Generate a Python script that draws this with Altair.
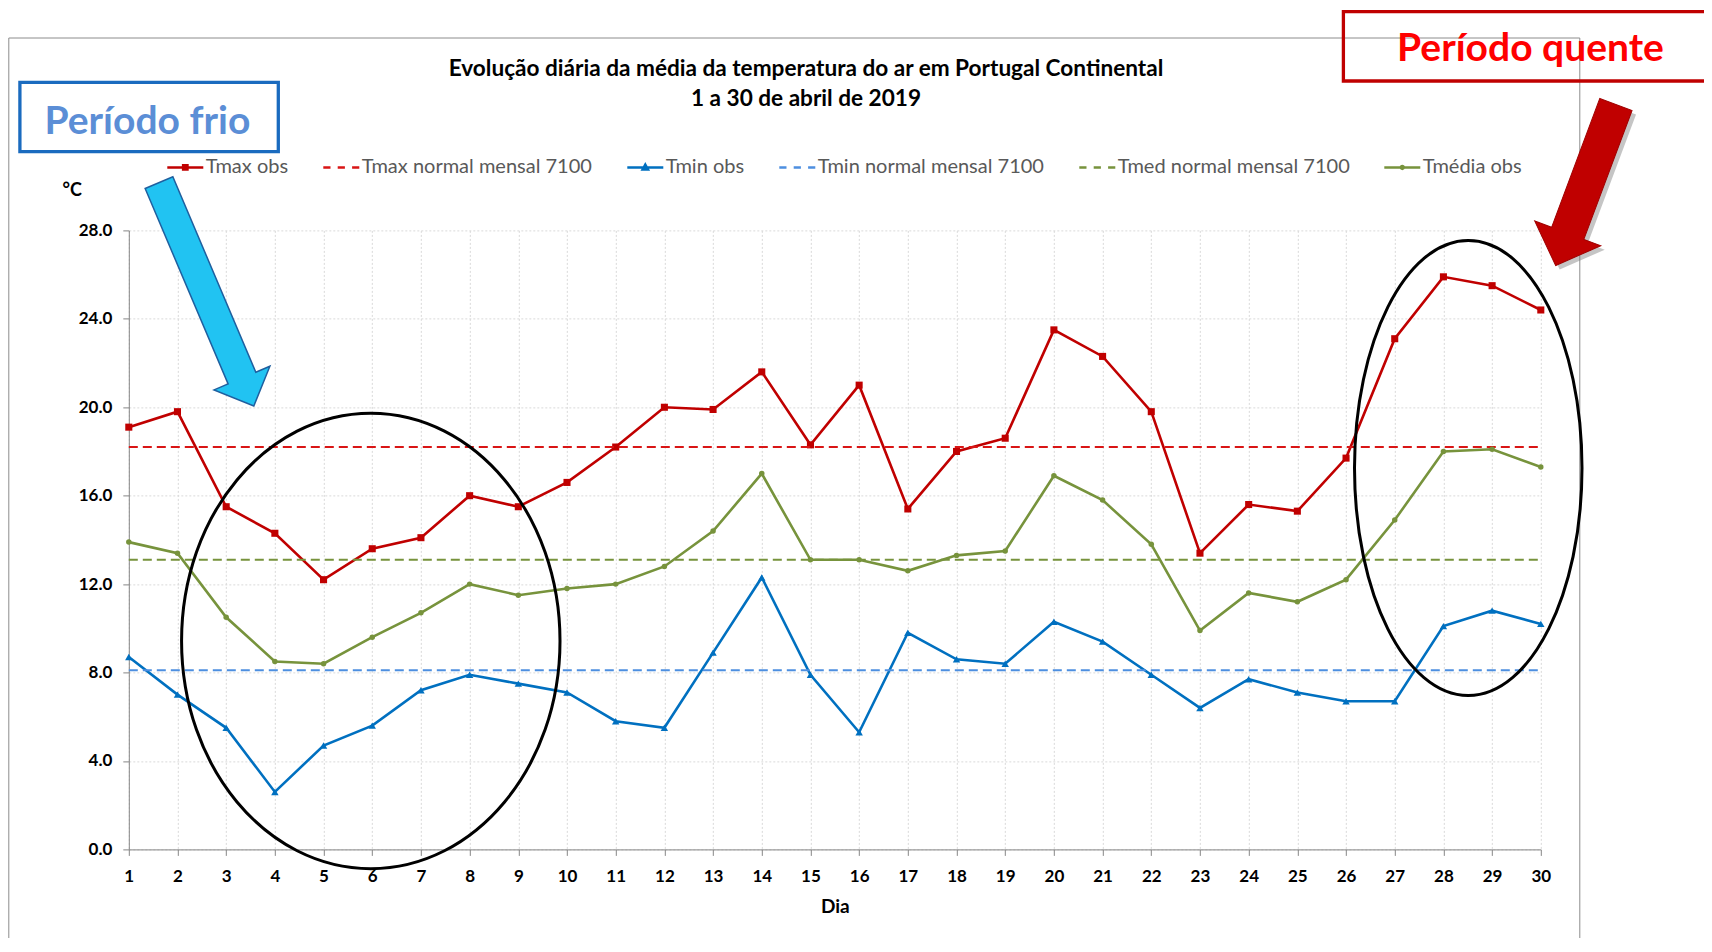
import altair as alt
import pandas as pd

# ---------------- data ----------------
days = list(range(1, 31))
tmax_obs = [19.1, 19.8, 15.5, 14.3, 12.2, 13.6, 14.1, 16.0, 15.5, 16.6,
            18.2, 20.0, 19.9, 21.6, 18.3, 21.0, 15.4, 18.0, 18.6, 23.5,
            22.3, 19.8, 13.4, 15.6, 15.3, 17.7, 23.1, 25.9, 25.5, 24.4]
tmin_obs = [8.7, 7.0, 5.5, 2.6, 4.7, 5.6, 7.2, 7.9, 7.5, 7.1,
            5.8, 5.5, 8.9, 12.3, 7.9, 5.3, 9.8, 8.6, 8.4, 10.3,
            9.4, 7.9, 6.4, 7.7, 7.1, 6.7, 6.7, 10.1, 10.8, 10.2]
tmed_obs = [13.9, 13.4, 10.5, 8.5, 8.4, 9.6, 10.7, 12.0, 11.5, 11.8,
            12.0, 12.8, 14.4, 17.0, 13.1, 13.1, 12.6, 13.3, 13.5, 16.9,
            15.8, 13.8, 9.9, 11.6, 11.2, 12.2, 14.9, 18.0, 18.1, 17.3]
tmax_normal = 18.2
tmin_normal = 8.1
tmed_normal = 13.1

series_names = ["Tmax obs", "Tmax normal mensal 7100", "Tmin obs",
                "Tmin normal mensal 7100", "Tmed normal mensal 7100", "Tmédia obs"]
series_colors = ["#c00000", "#d91515", "#0070c0", "#4d8fe0", "#77933c", "#77933c"]

y_ticks = [0, 4, 8, 12, 16, 20, 24, 28]

title_lines = ["Evolução diária da média da temperatura do ar em Portugal Continental",
               "1 a 30 de abril de 2019"]

# ---------------- helpers for symbol paths ----------------
def ellipse_path(a, b, cx=0.0, cy=0.0):
    k = 0.5523
    f = lambda v: f"{v:.4f}"
    return (f"M{f(cx+a)},{f(cy)} "
            f"C{f(cx+a)},{f(cy+k*b)} {f(cx+k*a)},{f(cy+b)} {f(cx)},{f(cy+b)} "
            f"C{f(cx-k*a)},{f(cy+b)} {f(cx-a)},{f(cy+k*b)} {f(cx-a)},{f(cy)} "
            f"C{f(cx-a)},{f(cy-k*b)} {f(cx-k*a)},{f(cy-b)} {f(cx)},{f(cy-b)} "
            f"C{f(cx+k*a)},{f(cy-b)} {f(cx+a)},{f(cy-k*b)} {f(cx+a)},{f(cy)} Z")

def arrow_path(shaft, head, head_start):
    return (f"M{-shaft},-1L{shaft},-1L{shaft},{head_start}L{head},{head_start}"
            f"L0,1L{-head},{head_start}L{-shaft},{head_start}Z")

leg_line = "M-1,0L1,0"
leg_dash = "M-1,0L-0.6,0M-0.2,0L0.2,0M0.6,0L1,0"
legend_paths = [
    leg_line + "M-0.12,-0.12L0.12,-0.12L0.12,0.12L-0.12,0.12Z",
    leg_dash,
    leg_line + "M-0.15,0.12L0.15,0.12L0,-0.16Z",
    leg_dash,
    leg_dash,
    leg_line + ellipse_path(0.08, 0.08),
]

# ---------------- tables ----------------
obs_df = pd.DataFrame({
    "day": days * 3,
    "temp": tmax_obs + tmin_obs + tmed_obs,
    "series": ["Tmax obs"] * 30 + ["Tmin obs"] * 30 + ["Tmédia obs"] * 30,
})
one = pd.DataFrame({"k": [0]})

LABEL_FONT = "Lato"

x_enc = alt.X("day:Q", scale=alt.Scale(domain=[1, 30], nice=False, zero=False),
              axis=alt.Axis(values=days, format="d", title="Dia",
                            labelFont=LABEL_FONT, labelFontSize=17, labelFontWeight="bold",
                            labelColor="#000000", labelPadding=13, labelFlush=False,
                            labelOverlap=False, tickSize=6, tickColor="#868686",
                            domainColor="#868686", grid=True, gridColor="#d9d9d9",
                            gridDash=[2, 2], titleFont=LABEL_FONT, titleFontSize=19,
                            titleFontWeight="bold", titleColor="#000000",
                            titleY=63, titleBaseline="alphabetic"))
y_enc = alt.Y("temp:Q", scale=alt.Scale(domain=[0, 28], nice=False),
              axis=alt.Axis(values=y_ticks, format=".1f", title="°C",
                            labelFont=LABEL_FONT, labelFontSize=17, labelFontWeight="bold",
                            labelColor="#000000", labelPadding=11, tickSize=6,
                            tickColor="#868686", domainColor="#868686", grid=True,
                            gridColor="#d9d9d9", gridDash=[2, 2],
                            titleAngle=0, titleX=-57, titleY=-40, titleAlign="center",
                            titleBaseline="middle", titleFont=LABEL_FONT, titleFontSize=18,
                            titleFontWeight="bold", titleColor="#000000"))

layers = []

# outer chart frame (Excel chart area border)
layers.append(alt.Chart(one).mark_rect(fill="transparent", stroke="#8c8c8c", strokeWidth=1).encode(
    x=alt.value(-120), x2=alt.value(1451), y=alt.value(-192.4), y2=alt.value(800)))

# axes carrier (invisible) so axes are defined once
layers.append(alt.Chart(obs_df).mark_line(opacity=0).encode(x=x_enc, y=y_enc, detail="series:N"))

def normal_rule(value, color):
    return alt.Chart(pd.DataFrame({"v": [value]})).mark_rule(
        color=color, strokeWidth=2, strokeDash=[9, 5]).encode(
        x=alt.X(datum=1), x2=alt.X2(datum=30), y=alt.Y("v:Q"))

def obs_line(name, color):
    d = obs_df[obs_df["series"] == name]
    return alt.Chart(d).mark_line(color=color, strokeWidth=2.6).encode(
        x=alt.X("day:Q"), y=alt.Y("temp:Q"))

def obs_points(name, color, shape, size):
    d = obs_df[obs_df["series"] == name]
    return alt.Chart(d).mark_point(shape=shape, size=size, filled=True, color=color,
                                   opacity=1).encode(
        x=alt.X("day:Q"), y=alt.Y("temp:Q"))

c = dict(zip(series_names, series_colors))
layers += [
    obs_line("Tmax obs", c["Tmax obs"]),
    obs_points("Tmax obs", c["Tmax obs"], "square", 50),
    normal_rule(tmax_normal, c["Tmax normal mensal 7100"]),
    obs_line("Tmin obs", c["Tmin obs"]),
    obs_points("Tmin obs", c["Tmin obs"], "triangle-up", 55),
    normal_rule(tmin_normal, c["Tmin normal mensal 7100"]),
    normal_rule(tmed_normal, c["Tmed normal mensal 7100"]),
    obs_line("Tmédia obs", c["Tmédia obs"]),
    obs_points("Tmédia obs", c["Tmédia obs"], "circle", 30),
]

# ellipses highlighting the cold / warm periods
layers.append(alt.Chart(one).mark_point(shape=ellipse_path(0.831, 1.0), size=455.4 ** 2,
                                        filled=False, stroke="#000000", strokeWidth=3,
                                        opacity=1).encode(
    x=alt.X(datum=5.97), y=alt.Y(datum=9.43)))
layers.append(alt.Chart(one).mark_point(shape=ellipse_path(0.5, 1.0), size=455.0 ** 2,
                                        filled=False, stroke="#000000", strokeWidth=3,
                                        opacity=1).encode(
    x=alt.X(datum=28.51), y=alt.Y(datum=17.25)))

# arrows
blue_arrow = arrow_path(0.124, 0.25, 0.75)
red_arrow = arrow_path(0.2, 0.41, 0.6)
layers.append(alt.Chart(one).mark_point(shape=blue_arrow, size=242.7 ** 2, angle=337,
                                        filled=True, fill="#21c3f2", stroke="#1f5f9f",
                                        strokeWidth=1.5, opacity=1).encode(
    x=alt.value(77.6), y=alt.value(63.9)))
layers.append(alt.Chart(one).mark_point(shape=red_arrow, size=172 ** 2, angle=20.5,
                                        filled=True, fill="#7f7f7f", strokeWidth=0,
                                        opacity=0.45).encode(
    x=alt.value(1461), y=alt.value(-41.4)))
layers.append(alt.Chart(one).mark_point(shape=red_arrow, size=172 ** 2, angle=20.5,
                                        filled=True, fill="#c00000", stroke="#a00000",
                                        strokeWidth=1, opacity=1).encode(
    x=alt.value(1457), y=alt.value(-45.4)))

# labelled boxes
layers.append(alt.Chart(one).mark_rect(fill="transparent", stroke="#1a6bbf", strokeWidth=3.3).encode(
    x=alt.value(-108.9), x2=alt.value(149.5), y=alt.value(-148.1), y2=alt.value(-78.7)))
layers.append(alt.Chart(one).mark_text(text="Período frio", font=LABEL_FONT, fontSize=39,
                                       fontWeight="bold", color="#5b8ed6", align="center",
                                       baseline="alphabetic").encode(
    x=alt.value(18.6), y=alt.value(-96.4)))
layers.append(alt.Chart(one).mark_rect(fill="transparent", stroke="#c00000", strokeWidth=3.3).encode(
    x=alt.value(1214.6), x2=alt.value(1640), y=alt.value(-218.7), y2=alt.value(-149.4)))
layers.append(alt.Chart(one).mark_text(text="Período quente", font=LABEL_FONT, fontSize=39,
                                       fontWeight="bold", color="#ff0000", align="center",
                                       baseline="alphabetic").encode(
    x=alt.value(1401.7), y=alt.value(-169.4)))

# chart title (two lines)
for line, ypos in zip(title_lines, [-154.4, -124.4]):
    layers.append(alt.Chart(one).mark_text(text=line, font=LABEL_FONT, fontSize=22.6,
                                           fontWeight="bold", color="#000000", align="center",
                                           baseline="alphabetic").encode(
        x=alt.value(677.2), y=alt.value(ypos)))

# legend carrier (invisible points, legend only)
leg = alt.Legend(orient="none", legendX=37, legendY=-82.7, direction="horizontal",
                 columns=6, title=None, labelFont=LABEL_FONT, labelFontSize=20,
                 labelColor="#595959", symbolSize=1296, symbolStrokeWidth=2.5,
                 symbolOpacity=1, labelOffset=1, columnPadding=29, labelLimit=400,
                 padding=0)
legend_df = pd.DataFrame({"series": series_names})
layers.append(alt.Chart(legend_df).mark_point(opacity=0, filled=False).encode(
    color=alt.Color("series:N", scale=alt.Scale(domain=series_names, range=series_colors),
                    legend=leg),
    shape=alt.Shape("series:N", scale=alt.Scale(domain=series_names, range=legend_paths),
                    legend=leg),
))

chart = alt.layer(*layers).properties(
    width=1412, height=619,
    background="#ffffff",
    padding={"left": 120.8, "top": 222.4, "right": 163.2, "bottom": 88.6},
    autosize=alt.AutoSizeParams(type="none"),
).configure_view(stroke="transparent")

chart.save("out.html", embed_options={"renderer": "svg", "actions": False})
